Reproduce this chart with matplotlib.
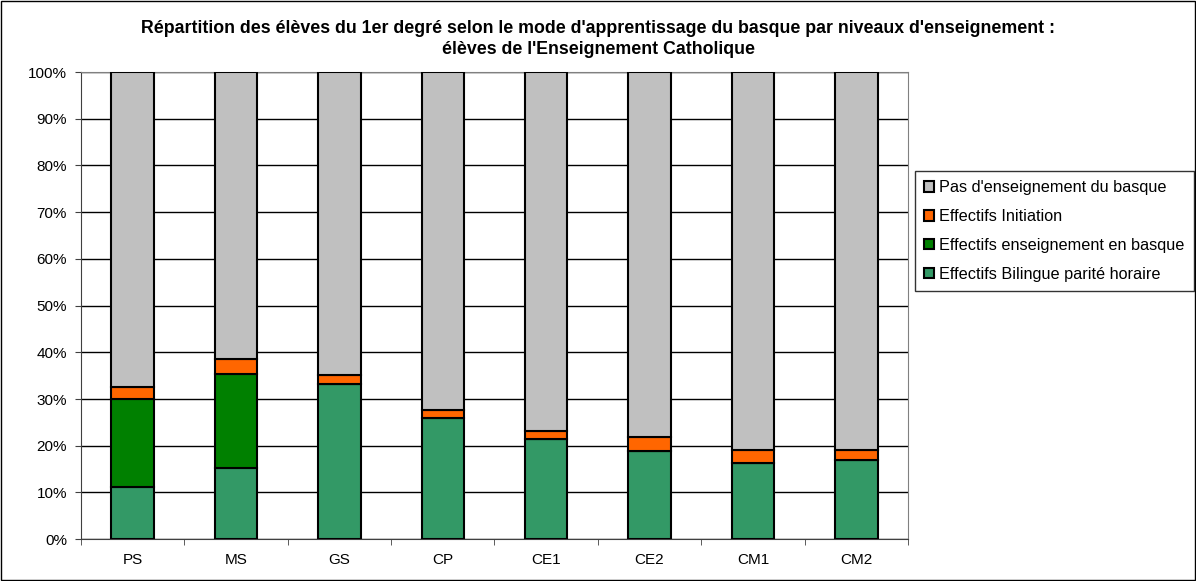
import matplotlib.pyplot as plt
import numpy as np

plt.rcParams['font.family'] = ['Liberation Sans', 'DejaVu Sans']

niveaux = ['PS', 'MS', 'GS', 'CP', 'CE1', 'CE2', 'CM1', 'CM2']
bilingue = [11.2, 15.3, 33.2, 26.0, 21.4, 18.9, 16.3, 16.9]
en_basque = [18.7, 20.1, 0.0, 0.0, 0.0, 0.0, 0.0, 0.0]
initiation = [2.7, 3.1, 1.9, 1.6, 1.7, 2.9, 2.7, 2.1]
pas_basque = [100 - b - e - i for b, e, i in zip(bilingue, en_basque, initiation)]

series = [
    ("Effectifs Bilingue parité horaire", bilingue, '#339966'),
    ("Effectifs enseignement en basque", en_basque, '#008000'),
    ("Effectifs Initiation", initiation, '#FF6600'),
    ("Pas d'enseignement du basque", pas_basque, '#C0C0C0'),
]

fig = plt.figure(figsize=(11.96, 5.81), dpi=100)
ax = fig.add_axes([0.0677, 0.072, 0.6915, 0.804])

x = np.arange(len(niveaux))
bottom = np.zeros(len(niveaux))
handles = []
for label, vals, color in series:
    vals = np.array(vals)
    h = ax.bar(x, vals, width=0.41, bottom=bottom, color=color,
               edgecolor='black', linewidth=1.5, label=label, zorder=3)
    handles.append(h)
    bottom += vals

ax.set_xlim(-0.5, len(niveaux) - 0.5)
ax.set_ylim(0, 100)
ax.set_yticks(np.arange(0, 101, 10))
ax.set_yticklabels([f"{v}%" for v in range(0, 101, 10)], fontsize=11)
ax.set_xticks(x)
ax.set_xticklabels(niveaux, fontsize=11)
ax.set_xticks(np.arange(-0.5, len(niveaux), 1.0), minor=True)
ax.yaxis.grid(True, color='black', linewidth=1, zorder=0)
for s in ax.spines.values():
    s.set_color('#808080')
ax.spines['left'].set_color('#404040')
ax.spines['bottom'].set_color('#404040')
ax.tick_params(axis='x', which='major', length=0, pad=10)
ax.tick_params(axis='x', which='minor', length=4, color='#404040')
ax.tick_params(axis='y', length=4, color='#404040', pad=6)

fig.suptitle("Répartition des élèves du 1er degré selon le mode d'apprentissage du basque par niveaux d'enseignement :\n"
             "élèves de l'Enseignement Catholique",
             fontsize=12.8, fontweight='bold', y=0.966, linespacing=1.3)

leg = fig.legend(handles[::-1], [s[0] for s in series][::-1],
                 loc='upper left', bbox_to_anchor=(0.765, 0.705),
                 fontsize=11.7, frameon=True, fancybox=False,
                 edgecolor='black', handlelength=0.6, handleheight=0.6,
                 labelspacing=0.85, borderpad=0.55, handletextpad=0.35,
                 borderaxespad=0)
leg.get_frame().set_linewidth(1)

fig.patches.append(plt.Rectangle((0.001, 0.001), 0.998, 0.997, transform=fig.transFigure,
                                 fill=False, edgecolor='black', linewidth=1))

fig.savefig('out.png', dpi=100)
